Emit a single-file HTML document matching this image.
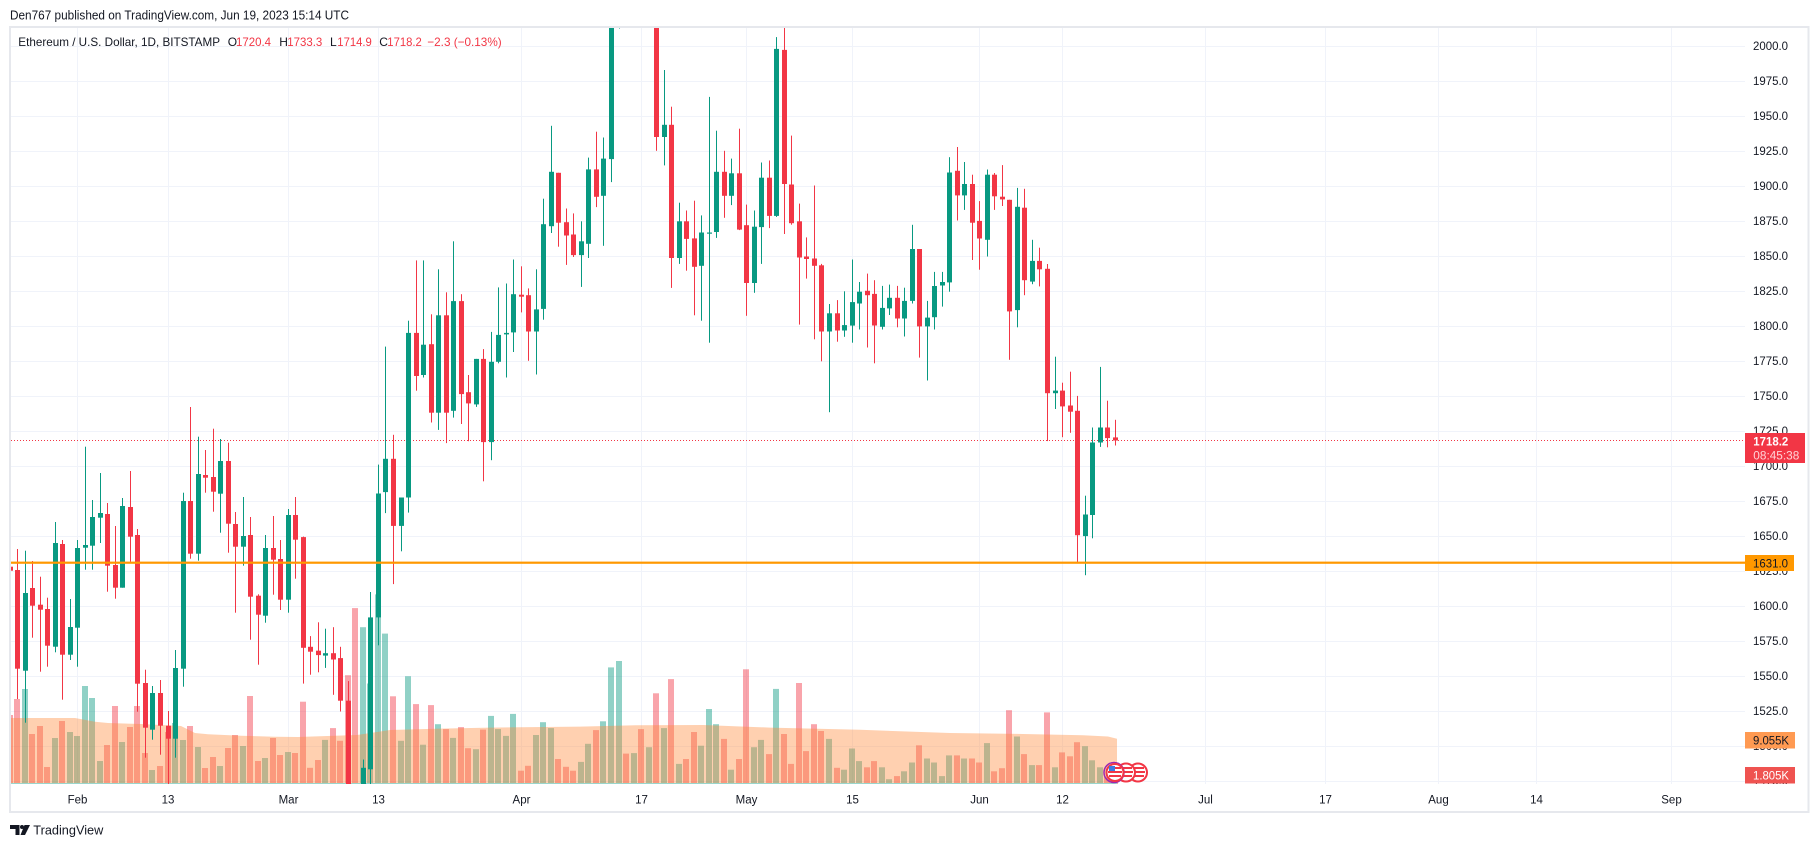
<!DOCTYPE html>
<html><head><meta charset="utf-8"><style>
html,body{margin:0;padding:0;background:#fff;}
svg{display:block;font-family:"Liberation Sans",Arial,sans-serif;}
</style></head><body>
<svg id="c" xmlns="http://www.w3.org/2000/svg" width="1819" height="848" viewBox="0 0 1819 848">
<defs><clipPath id="pane"><rect x="11" y="28" width="1734" height="756"/></clipPath>
<clipPath id="axis"><rect x="1745" y="28" width="63" height="756"/></clipPath></defs>
<rect width="1819" height="848" fill="#fff"/>
<text x="10" y="19.3" font-size="12.5" fill="#131722" textLength="339" lengthAdjust="spacingAndGlyphs">Den767 published on TradingView.com, Jun 19, 2023 15:14 UTC</text>

<g stroke="#F0F3FA" stroke-width="1">
<line x1="11" x2="1745" y1="46.5" y2="46.5"/><line x1="11" x2="1745" y1="81.5" y2="81.5"/><line x1="11" x2="1745" y1="116.5" y2="116.5"/><line x1="11" x2="1745" y1="151.5" y2="151.5"/><line x1="11" x2="1745" y1="186.5" y2="186.5"/><line x1="11" x2="1745" y1="221.5" y2="221.5"/><line x1="11" x2="1745" y1="256.5" y2="256.5"/><line x1="11" x2="1745" y1="291.5" y2="291.5"/><line x1="11" x2="1745" y1="326.5" y2="326.5"/><line x1="11" x2="1745" y1="361.5" y2="361.5"/><line x1="11" x2="1745" y1="396.5" y2="396.5"/><line x1="11" x2="1745" y1="431.5" y2="431.5"/><line x1="11" x2="1745" y1="466.5" y2="466.5"/><line x1="11" x2="1745" y1="501.5" y2="501.5"/><line x1="11" x2="1745" y1="536.5" y2="536.5"/><line x1="11" x2="1745" y1="571.5" y2="571.5"/><line x1="11" x2="1745" y1="606.5" y2="606.5"/><line x1="11" x2="1745" y1="641.5" y2="641.5"/><line x1="11" x2="1745" y1="676.5" y2="676.5"/><line x1="11" x2="1745" y1="711.5" y2="711.5"/><line x1="11" x2="1745" y1="746.5" y2="746.5"/><line x1="11" x2="1745" y1="781.5" y2="781.5"/>
<line y1="28" y2="784" x1="77.5" x2="77.5"/><line y1="28" y2="784" x1="168.5" x2="168.5"/><line y1="28" y2="784" x1="288.5" x2="288.5"/><line y1="28" y2="784" x1="378.5" x2="378.5"/><line y1="28" y2="784" x1="521.5" x2="521.5"/><line y1="28" y2="784" x1="641.5" x2="641.5"/><line y1="28" y2="784" x1="746.5" x2="746.5"/><line y1="28" y2="784" x1="852.5" x2="852.5"/><line y1="28" y2="784" x1="979.5" x2="979.5"/><line y1="28" y2="784" x1="1062.5" x2="1062.5"/><line y1="28" y2="784" x1="1205.5" x2="1205.5"/><line y1="28" y2="784" x1="1325.5" x2="1325.5"/><line y1="28" y2="784" x1="1438.5" x2="1438.5"/><line y1="28" y2="784" x1="1536.5" x2="1536.5"/><line y1="28" y2="784" x1="1671.5" x2="1671.5"/>
</g>

<g id="vol" clip-path="url(#pane)"></g>
<path clip-path="url(#pane)" fill="rgba(255,138,58,0.4)" d="M8,718 L75,718 L95,721.7 L108,723 L141,724 L181,726 L195,733 L208,734.3 L241,735.7 L275,736.8 L298,737 L357,735 L390,730 L440,728.6 L490,727.6 L580,726.6 L637,725.2 L703,725 L770,727.6 L860,729.8 L950,733 L1017,733.9 L1083,735.2 L1108,736.5 L1117,738.7 L1117,784 L8,784 Z"/>
<rect x="11" y="783" width="1106" height="1" fill="#9ad6cc"/>
<line x1="11" x2="1745" y1="440.5" y2="440.5" stroke="#F23645" stroke-width="1" stroke-dasharray="1 2"/>
<g id="cdl" clip-path="url(#pane)"></g>
<rect x="11" y="561.6" width="1734" height="2.2" fill="#FF9800"/>

<!-- icons -->
<g>
<circle cx="1138" cy="772.5" r="9" fill="#fff" stroke="#F23645" stroke-width="2"/>
<rect x="1132" y="767" width="12" height="2" fill="#F23645"/><rect x="1131" y="771" width="14" height="2" fill="#F23645"/><rect x="1132" y="775" width="12" height="2" fill="#F23645"/>
<circle cx="1126" cy="772.5" r="9" fill="#fff" stroke="#F23645" stroke-width="2"/>
<rect x="1120" y="767" width="12" height="2" fill="#F23645"/><rect x="1119" y="771" width="14" height="2" fill="#F23645"/><rect x="1120" y="775" width="12" height="2" fill="#F23645"/>
<circle cx="1114" cy="772.5" r="10" fill="none" stroke="#9C27B0" stroke-width="1.5"/>
<circle cx="1115" cy="772.5" r="8.5" fill="#fff" stroke="#F23645" stroke-width="2"/>
<rect x="1109" y="767" width="12" height="2" fill="#F23645"/><rect x="1108" y="771" width="14" height="2" fill="#F23645"/><rect x="1109" y="775" width="12" height="2" fill="#F23645"/>
<rect x="1109" y="766" width="6" height="5" fill="#3D7BE0"/>
</g>

<!-- legend -->
<g font-size="12" fill="#131722">
<text x="18.3" y="46" textLength="201.7" lengthAdjust="spacingAndGlyphs">Ethereum / U.S. Dollar, 1D, BITSTAMP</text>
<text x="227.7" y="46">O</text><text x="236" y="46" fill="#F23645" textLength="35" lengthAdjust="spacingAndGlyphs">1720.4</text>
<text x="279.3" y="46">H</text><text x="287.3" y="46" fill="#F23645" textLength="35" lengthAdjust="spacingAndGlyphs">1733.3</text>
<text x="330" y="46">L</text><text x="337.3" y="46" fill="#F23645" textLength="34.5" lengthAdjust="spacingAndGlyphs">1714.9</text>
<text x="379.3" y="46">C</text><text x="387.3" y="46" fill="#F23645" textLength="34.5" lengthAdjust="spacingAndGlyphs">1718.2</text>
<text x="427.3" y="46" fill="#F23645" textLength="74.4" lengthAdjust="spacingAndGlyphs">−2.3 (−0.13%)</text>
</g>

<!-- price axis -->
<g font-size="11.5" fill="#131722" clip-path="url(#axis)">
<text x="1753" y="50" textLength="35" lengthAdjust="spacingAndGlyphs">2000.0</text>
<text x="1753" y="85" textLength="35" lengthAdjust="spacingAndGlyphs">1975.0</text>
<text x="1753" y="120" textLength="35" lengthAdjust="spacingAndGlyphs">1950.0</text>
<text x="1753" y="155" textLength="35" lengthAdjust="spacingAndGlyphs">1925.0</text>
<text x="1753" y="190" textLength="35" lengthAdjust="spacingAndGlyphs">1900.0</text>
<text x="1753" y="225" textLength="35" lengthAdjust="spacingAndGlyphs">1875.0</text>
<text x="1753" y="260" textLength="35" lengthAdjust="spacingAndGlyphs">1850.0</text>
<text x="1753" y="295" textLength="35" lengthAdjust="spacingAndGlyphs">1825.0</text>
<text x="1753" y="330" textLength="35" lengthAdjust="spacingAndGlyphs">1800.0</text>
<text x="1753" y="365" textLength="35" lengthAdjust="spacingAndGlyphs">1775.0</text>
<text x="1753" y="400" textLength="35" lengthAdjust="spacingAndGlyphs">1750.0</text>
<text x="1753" y="435" textLength="35" lengthAdjust="spacingAndGlyphs">1725.0</text>
<text x="1753" y="470" textLength="35" lengthAdjust="spacingAndGlyphs">1700.0</text>
<text x="1753" y="505" textLength="35" lengthAdjust="spacingAndGlyphs">1675.0</text>
<text x="1753" y="540" textLength="35" lengthAdjust="spacingAndGlyphs">1650.0</text>
<text x="1753" y="575" textLength="35" lengthAdjust="spacingAndGlyphs">1625.0</text>
<text x="1753" y="610" textLength="35" lengthAdjust="spacingAndGlyphs">1600.0</text>
<text x="1753" y="645" textLength="35" lengthAdjust="spacingAndGlyphs">1575.0</text>
<text x="1753" y="680" textLength="35" lengthAdjust="spacingAndGlyphs">1550.0</text>
<text x="1753" y="715" textLength="35" lengthAdjust="spacingAndGlyphs">1525.0</text>
<text x="1753" y="750" textLength="35" lengthAdjust="spacingAndGlyphs">1500.0</text>
<text x="1753" y="785" textLength="35" lengthAdjust="spacingAndGlyphs">1475.0</text>
</g>

<!-- price label boxes -->
<rect x="1745" y="433" width="60" height="30" fill="#F23645"/>
<text x="1753.3" y="445.5" font-size="11.5" font-weight="bold" fill="#fff" textLength="35" lengthAdjust="spacingAndGlyphs">1718.2</text>
<text x="1753.3" y="459.5" font-size="11.5" fill="#FFD3D7" textLength="46" lengthAdjust="spacingAndGlyphs">08:45:38</text>
<rect x="1745" y="555" width="49" height="16" fill="#FF9800"/>
<text x="1753" y="567.3" font-size="11.5" fill="#131722" textLength="35" lengthAdjust="spacingAndGlyphs">1631.0</text>
<rect x="1745" y="732" width="50" height="16.5" fill="#FF9A52"/>
<text x="1753" y="744.5" font-size="11.5" fill="#131722" textLength="36" lengthAdjust="spacingAndGlyphs">9.055K</text>
<rect x="1745" y="767" width="50" height="16.5" fill="#EF5350"/>
<text x="1753" y="779.5" font-size="11.5" fill="#fff" textLength="36" lengthAdjust="spacingAndGlyphs">1.805K</text>

<!-- time axis -->
<g font-size="11.5" fill="#131722" text-anchor="middle">
<text x="77.5" y="803.3">Feb</text><text x="168" y="803.3">13</text><text x="288.5" y="803.3">Mar</text><text x="378.5" y="803.3">13</text>
<text x="521.5" y="803.3">Apr</text><text x="641.5" y="803.3">17</text><text x="746.5" y="803.3">May</text><text x="852.5" y="803.3">15</text>
<text x="979.5" y="803.3">Jun</text><text x="1062.5" y="803.3">12</text><text x="1205.5" y="803.3">Jul</text><text x="1325.5" y="803.3">17</text>
<text x="1438.5" y="803.3">Aug</text><text x="1536.5" y="803.3">14</text><text x="1671.5" y="803.3">Sep</text>
</g>

<!-- frame -->
<rect x="10" y="27" width="1798.5" height="785" fill="none" stroke="#E6E8ED" stroke-width="2"/>

<!-- logo -->
<g fill="#131722">
<path d="M10,825 H19.5 V835 H15.5 V829 H10 Z"/>
<circle cx="22" cy="827" r="2"/>
<path d="M24.5,825 H30 L25,835 H20.5 Z"/>
</g>
<text x="33.3" y="834.5" font-size="13" fill="#131722" textLength="70" lengthAdjust="spacingAndGlyphs">TradingView</text>
</svg>
<script>
(function(){
var D=[
[-9,'r',566.7,570.7,566,571,715],
[-8,'r',570,668.7,549,699,699],
[-7,'g',593,670.7,550.7,722.7,689],
[-6,'r',588,605.7,561,637.7,734],
[-5,'r',604.7,609.7,576.7,671.7,726],
[-4,'r',609,645.7,597.7,666.7,767],
[-3,'g',543,646.7,522,652.3,738],
[-2,'r',544,654.7,540,699.7,721],
[-1,'g',627,654.7,599,660,732],
[0,'g',548,627.7,540,666.7,736],
[1,'g',545,547.7,446.7,569.7,686],
[2,'g',517,545.7,500,569.7,698],
[3,'g',513,517.7,473,543,761],
[4,'r',514,565.7,503,591.7,745],
[5,'r',565,587.7,526,598.7,706],
[6,'g',506,587.7,498,587.7,742],
[7,'r',507,536.7,471,561.7,727],
[8,'r',535,683.7,529,711.7,706],
[9,'r',683,727.7,669.7,757.7,753],
[10,'g',693,729.7,686,739.7,770],
[11,'r',693,725.7,680,754.7,766],
[12,'r',725.7,738.7,711,790,732],
[13,'g',668,738.7,650,757.7,723],
[14,'g',501,668.7,492.7,686.7,740],
[15,'r',501,553.7,407,558.7,726],
[16,'g',474,553.7,436.7,560.7,747],
[17,'r',475,477.7,450,492.7,768],
[18,'r',477,491.7,428.7,511.7,757],
[19,'g',461,493.7,439,532.7,766],
[20,'r',461,523.7,442.7,552.7,748],
[21,'r',524,546.7,512,612.7,735],
[22,'g',536,546.7,497,565.7,746],
[23,'r',535,596.7,517,639.7,696],
[24,'r',595.7,614.7,594.3,664.7,761],
[25,'g',548,615.7,535,622.7,758],
[26,'r',548,559.7,516,594.7,738],
[27,'r',559,599.7,540,610,755],
[28,'g',515,599.7,509,612.7,752],
[29,'r',515,539.7,497,578.7,753],
[30,'r',537.1,647.8,536.6,683.6,701.7],
[31,'r',646.8,651.7,636.1,674.7,767.8],
[32,'r',650.7,655.1,622.3,672.3,760],
[33,'g',653.2,655.6,628.7,667.9,739.9],
[34,'r',653.2,659.5,627.2,694.8,728.1],
[35,'r',658.1,700.7,646.8,711.5,740.8],
[36,'r',700.7,790,681.1,790,675.2],
[37,'r',null,0,0,0,608.1],
[38,'g',767.8,790,759.5,790,627.2],
[39,'g',617.4,769.3,592,790,683.5],
[40,'g',493.5,617.4,464.6,645.3,594.4],
[41,'g',458.8,492.1,346.6,513.1,633.6],
[42,'r',458.8,525.9,434.8,584.1,696.3],
[43,'g',497.5,525.9,497.5,551.3,740.8],
[44,'g',332.9,497.5,320.7,512.6,676.2],
[45,'r',332.9,376,260.4,390.7,704.1],
[46,'g',344.7,375,260.4,377.5,744.7],
[47,'r',344.2,412.7,314.3,422.5,705.1],
[48,'g',315.3,412.7,269.3,429.9,724.2],
[49,'r',315.3,412.7,292.3,443.1,729.1],
[50,'g',301.1,410.8,241.3,417.6,737.9],
[51,'r',301.1,394.1,294.2,424,727.1],
[52,'r',392.2,403.4,375,441.2,748.2],
[53,'g',358.9,404.4,358.9,406.9,749.2],
[54,'r',358.9,442.1,349.1,481.3,729.6],
[55,'g',361.8,442.1,331.9,460.2,715.9],
[56,'g',334.9,361.8,287.4,363.3,729.1],
[57,'g',332.9,334.4,283.5,377.5,735.9],
[58,'g',294.2,332.4,259.5,352,713.9],
[59,'r',294.7,296.7,266.3,312.4,770.7],
[60,'r',295.2,331.5,288.4,360.8,765.8],
[61,'g',309.4,331.5,269.3,374.5,735],
[62,'g',224.2,308.9,198.7,319.7,722.2],
[63,'g',171.8,226.2,125.8,233,728.1],
[64,'r',172.8,222.7,172.8,246.7,759],
[65,'r',222.2,235.5,208.5,264.9,766.8],
[66,'r',234.5,255.1,213.4,257,770.7],
[67,'g',241.3,255.1,221.3,286.9,761.9],
[68,'g',169.4,243.8,157.6,258,743.8],
[69,'r',169.4,196.8,131.7,207.1,730.1],
[70,'g',158.6,195.8,137.5,245.8,721.3],
[71,'g',20,159.1,20,182.1,667.4],
[72,'g',-60,-50,-60,28.5,661],
[73,'r',null,0,0,0,753.6],
[74,'g',null,0,0,0,753.1],
[75,'r',null,0,0,0,729.1],
[76,'g',null,0,0,0,747.2],
[77,'r',20,137,20,150.8,693.3],
[78,'g',124.8,137,70,165.4,728.1],
[79,'r',124.8,258,106.7,287.9,679.1],
[80,'g',221.3,258,202.7,263.9,763.9],
[81,'r',221.3,238.9,210.5,270.7,759],
[82,'r',238.4,266.8,200.7,315.3,732],
[83,'g',232.5,265.8,215.4,320.7,745.7],
[84,'g',232.5,233.5,96.9,342.7,709],
[85,'g',171.8,232,130.7,237.9,724.2],
[86,'r',171.8,195.8,150.8,217.8,738.9],
[87,'g',173.3,195.8,158.6,205.1,769.7],
[88,'r',173.3,229.6,128.7,230.1,759],
[89,'r',225.2,283,204.6,315.8,669.3],
[90,'g',226.7,283,210.5,292.8,747.2],
[91,'g',177.7,227.1,162.5,263.9,739.9],
[92,'r',177.7,215.9,160.5,228.1,754.1],
[93,'g',48.9,215.9,37.1,216.9,688.9],
[94,'r',49.9,184,20,234,734],
[95,'r',184.5,223.2,135.6,224.7,763.9],
[96,'r',221.3,257.5,203.6,324.6,683],
[97,'r',256.5,259,237.4,278.6,751.1],
[98,'r',258.5,265.8,185.5,339.3,724.2],
[99,'r',265.3,331.5,263.9,361.3,731],
[100,'g',313.3,331.5,304,412.2,738.9],
[101,'r',313.3,330.5,300.1,341.7,767.8],
[102,'g',325.1,330.5,291.3,336.8,769.7],
[103,'g',302.1,325.6,259.5,342.7,748.5],
[104,'g',291.7,303.5,282,329.5,761.1],
[105,'r',290.8,295.2,273.6,347.5,767.3],
[106,'r',293.9,325.5,280.2,363.3,761.1],
[107,'g',307.9,326.8,285.9,329.5,767.3],
[108,'g',297.8,308.4,284.6,315,779.2],
[109,'r',297.8,318.5,285.9,327.3,776.1],
[110,'g',300.9,318.5,287.7,336.5,771.3],
[111,'g',249,300.9,224.8,303.5,762.5],
[112,'r',249,326.4,249,357.6,745.3],
[113,'g',317.6,326.4,300.9,380.5,758.5],
[114,'g',286,317.2,271.9,329.5,762.5],
[115,'g',282,285.5,271.9,306.6,776.1],
[116,'g',172.5,282.4,157.2,291.7,755.4],
[117,'r',170.8,195.4,147,220.5,755.4],
[118,'g',184,195.4,162,209.9,758.5],
[119,'r',184,222.7,174.7,260,758.5],
[120,'r',220.9,238.5,201.1,269.7,762.5],
[121,'g',174.7,239.8,169.5,256.5,743.1],
[122,'r',174.7,196.3,173,209.9,771.3],
[123,'r',196.7,199.4,165.1,206,768.2],
[124,'r',199.8,311.4,199.8,359.8,710.2],
[125,'g',206.8,310.1,187.9,327.3,736.5],
[126,'r',207.7,280.2,188.8,295.2,754.1],
[127,'g',260.9,281.6,239.8,284.2,765.1],
[128,'r',260.9,269.3,247.7,286.4,765.1],
[129,'r',268.8,393.2,264,441.1,712.4],
[130,'g',390.6,393.2,356.7,409,767.3],
[131,'r',390.6,406.4,382.7,437.2,752.4],
[132,'r',405.5,411.7,371.7,432.8,756.3],
[133,'r',410.8,535.2,395.9,562.5,742.2],
[134,'g',514.5,536.1,495.7,575.2,746.2],
[135,'g',442.5,515,427.5,538.3,760.3],
[136,'g',427.5,442.5,366.9,446.9,767.3],
[137,'r',427.5,438.1,400.7,447.3,777],
[138,'r',437.4,440.5,419.8,445.5,780]
];
var vol='',cdl='';
for(var i=0;i<D.length;i++){
  var e=D[i],d=e[0],c=e[1];
  var cx=Math.round(77.3+7.517*d);
  var vt=e[6];
  vol+='<rect x="'+(cx-3)+'" y="'+vt.toFixed(1)+'" width="6" height="'+(784-vt).toFixed(1)+'" fill="'+(c=='r'?'rgba(242,54,69,0.45)':'rgba(8,153,129,0.45)')+'"/>';
  if(e[2]!==null){
    var col=c=='r'?'#F23645':'#089981';
    var bt=e[2],bb=e[3],wt=e[4],wb=e[5];
    cdl+='<rect x="'+cx+'" y="'+wt.toFixed(1)+'" width="1" height="'+Math.max(1,wb-wt).toFixed(1)+'" fill="'+col+'"/>';
    cdl+='<rect x="'+(cx-2)+'" y="'+bt.toFixed(1)+'" width="5" height="'+Math.max(1.2,bb-bt).toFixed(1)+'" fill="'+col+'"/>';
  }
}
document.getElementById('vol').innerHTML=vol;
document.getElementById('cdl').innerHTML=cdl;
})();
</script>
</body></html>
